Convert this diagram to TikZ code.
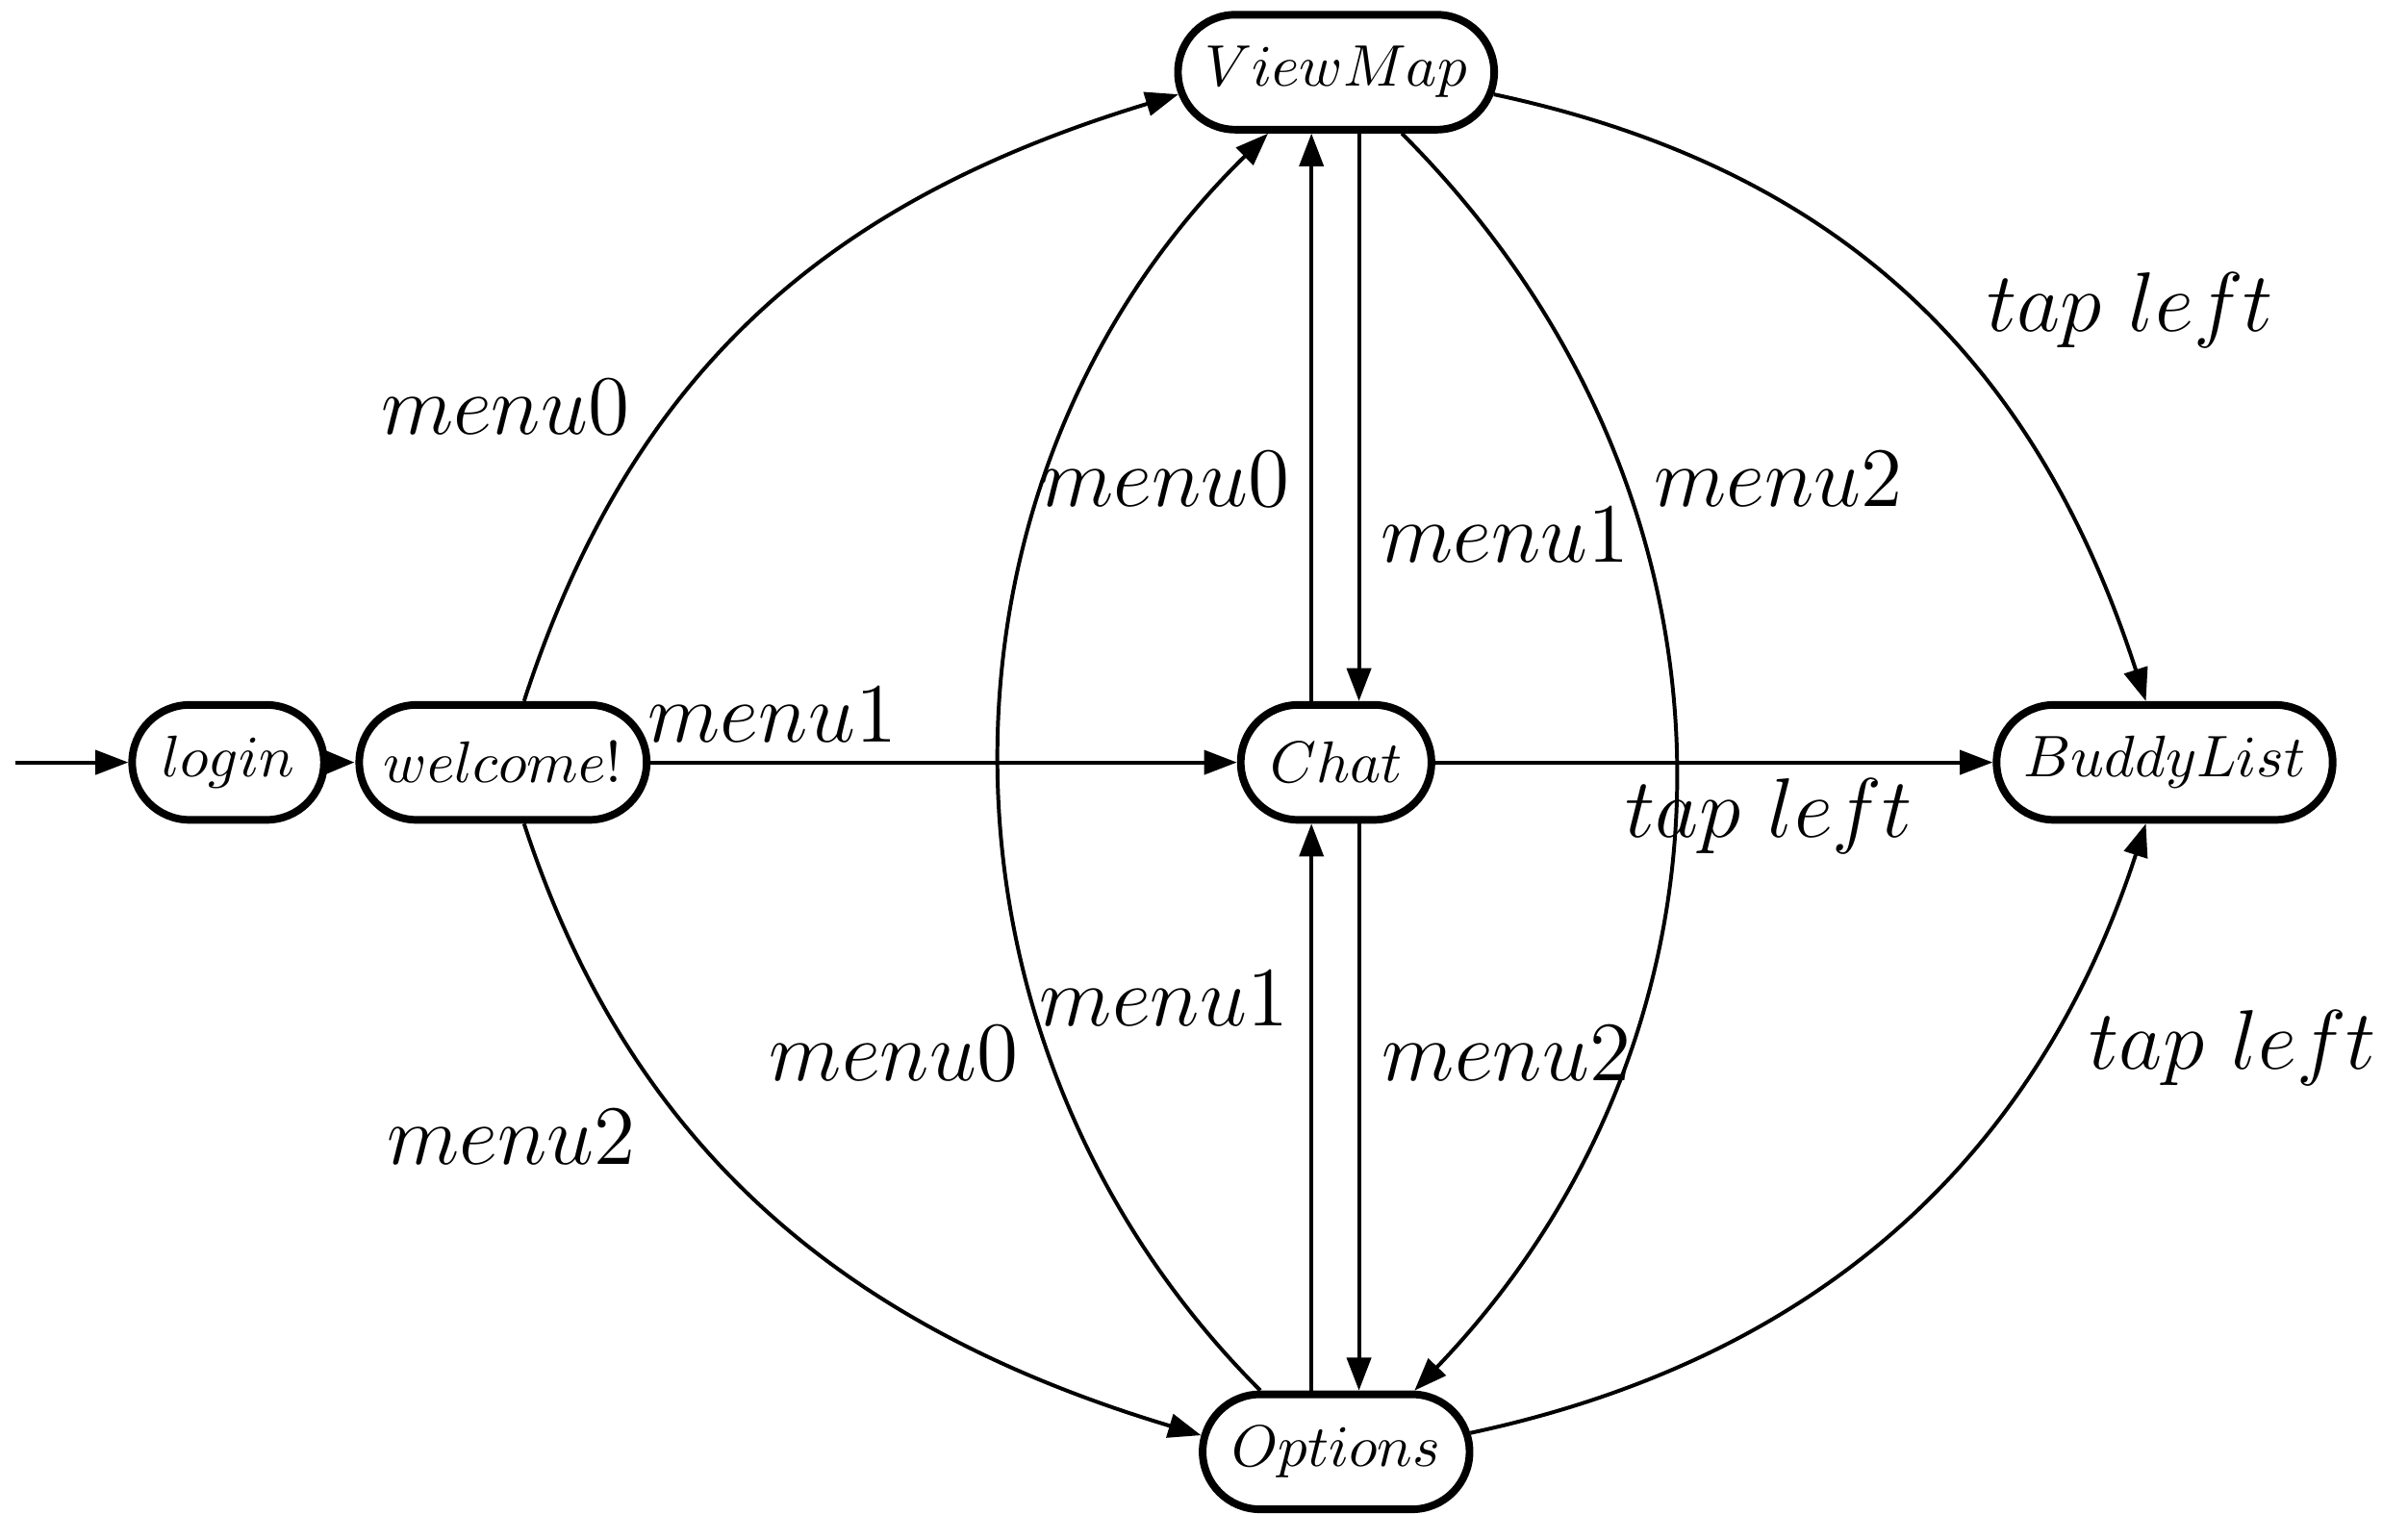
\documentclass[tikz,border=0pt]{standalone}
\usetikzlibrary{arrows.meta,shapes.misc}
\begin{document}
\begin{tikzpicture}[x=0.2618pt,y=-0.2618pt,
  state/.style={rounded rectangle, draw, line width=1.3pt, minimum height=19.6pt,
    inner xsep=-6pt, inner ysep=0pt, font=\fontsize{10}{12}\selectfont},
  edge/.style={line width=0.65pt, -{Triangle[length=5.6pt,width=4.1pt]}},
  lbl/.style={font=\fontsize{14.4}{17}\selectfont, inner sep=0pt, anchor=base}]
\useasboundingbox (0,0) rectangle (1568,986);

% states
\node[state, minimum width=20.7pt] (login)   at (148.5,496.5) {$login$};
\node[state, minimum width=37.0pt] (welcome) at (327.5,496.5) {$welcome!$};
\node[state, minimum width=20.5pt] (chat)    at (870,496.5)   {$Chat$};
\node[state, minimum width=45.3pt] (bl)      at (1409.5,496.5) {$BuddyList$};
\node[state, minimum width=41.9pt] (vm)      at (870,47)      {$ViewMap$};
\node[state, minimum width=33.5pt] (opt)     at (870,945.5)   {$Options$};

% entry arrow
\coordinate (init) at (10,496.5);
\draw[edge] (init) -- (login.west);
\draw[edge, line width=1.3pt] (login.east) -- (welcome.west);

% transitions out of welcome!
\draw[edge] (welcome.east) -- (chat.west)
  node[lbl] (l1) at (503,483) {$menu1$};
\draw[edge] (welcome.71) .. controls (413,236) and (545,129) .. (vm.188)
  node[lbl] (l2) at (329,283) {$menu0$};
\draw[edge] (welcome.-71) .. controls (413,756) and (560,868) .. (opt.173)
  node[lbl] (l3) at (333,758) {$menu2$};

% transitions to BuddyList
\draw[edge] (vm.-8) .. controls (1200,110) and (1326,236) .. (bl.107)
  node[lbl] (l4) at (1387,216) {$tap\ left$};
\draw[edge] (chat.east) -- (bl.west)
  node[lbl] (l5) at (1152,545) {$tap\ left$};
\draw[edge] (opt.8) .. controls (1183,885) and (1326,755) .. (bl.253)
  node[lbl] (l6) at (1454,696) {$tap\ left$};

% ViewMap <-> Options
\draw[edge] (vm.-43) .. controls (1148,322) and (1148,669) .. (opt.38)
  node[lbl] (l7) at (1158,330) {$menu2$};
\draw[edge] (opt.141) .. controls (594,679) and (594,314) .. (vm.222)
  node[lbl] (l8) at (582,704) {$menu0$};

% Chat <-> ViewMap and Chat <-> Options
\draw[edge] ([xshift=-4.2pt]chat.north) -- ([xshift=-4.2pt]vm.south)
  node[lbl] (l9) at (759,330) {$menu0$};
\draw[edge] ([xshift=3.9pt]vm.south) -- ([xshift=3.9pt]chat.north)
  node[lbl] (l10) at (980,366) {$menu1$};
\draw[edge] ([xshift=-4.2pt]opt.north) -- ([xshift=-4.2pt]chat.south)
  node[lbl] (l11) at (758,668) {$menu1$};
\draw[edge] ([xshift=3.9pt]chat.south) -- ([xshift=3.9pt]opt.north)
  node[lbl] (l12) at (981,704) {$menu2$};
\end{tikzpicture}
\end{document}
